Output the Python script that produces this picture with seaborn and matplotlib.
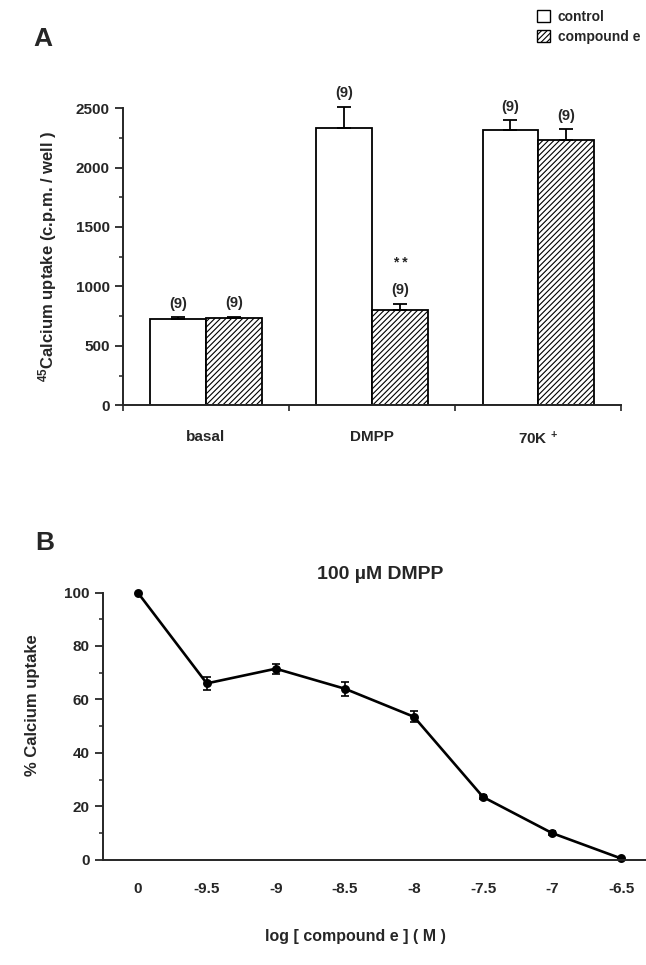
import pandas as pd
import numpy as np
import seaborn as sns
import matplotlib.pyplot as plt
from matplotlib.patches import Patch
from matplotlib.ticker import MultipleLocator, FixedLocator

sns.set_style("ticks")
plt.rcParams["font.family"] = ["Liberation Sans", "DejaVu Sans"]
plt.rcParams["font.weight"] = "bold"
plt.rcParams["mathtext.fontset"] = "custom"
plt.rcParams["mathtext.rm"] = "Liberation Sans:bold"
plt.rcParams["mathtext.bf"] = "Liberation Sans:bold"
plt.rcParams["mathtext.it"] = "Liberation Sans:bold"
plt.rcParams["hatch.linewidth"] = 0.8

# panel A data
conditions = ["basal", "DMPP", "70K $^{+}$"]
groups = ["control", "compound e"]
control_mean = [728, 2330, 2318]
control_err = [12, 180, 80]
compound_mean = [735, 805, 2230]
compound_err = [10, 50, 90]
n_labels = ["(9)", "(9)", "(9)", "(9)", "(9)", "(9)"]

# panel B data
log_conc = ["0", "-9.5", "-9", "-8.5", "-8", "-7.5", "-7", "-6.5"]
pct_uptake = [100, 66, 71.5, 64, 53.5, 23.5, 10, 0.5]
pct_err = [0, 2.3, 1.8, 2.7, 2.1, 0.6, 0.6, 0.3]

df_a = pd.DataFrame({
    "cond": conditions * 2,
    "group": [groups[0]] * 3 + [groups[1]] * 3,
    "value": control_mean + compound_mean,
    "err": control_err + compound_err,
})
df_b = pd.DataFrame({"x": log_conc, "y": pct_uptake, "err": pct_err})

fig = plt.figure(figsize=(6.46, 9.65), dpi=100)

# ---------- panel A ----------
axA = fig.add_axes([0.190, 0.580, 0.772, 0.308])
sns.barplot(data=df_a, x="cond", y="value", hue="group", order=conditions,
            hue_order=groups, palette=["white", "white"], errorbar=None,
            width=0.67, edgecolor="black", linewidth=1.3, legend=False, ax=axA)

bars = axA.patches[:6]
for i, b in enumerate(bars):
    if i >= 3:
        b.set_hatch("//////")
    xc = b.get_x() + b.get_width() / 2
    row = df_a.iloc[i]
    axA.errorbar(xc, row["value"], yerr=[[0], [row["err"]]], fmt="none",
                 ecolor="black", elinewidth=1.3, capsize=5, capthick=1.3,
                 clip_on=False)
    top = row["value"] + row["err"]
    axA.text(xc, top + 55, n_labels[i], ha="center", va="bottom", fontsize=10.5,
             fontweight="bold", clip_on=False)
    if i == 4:
        axA.text(xc, top + 280, "* *", ha="center", va="bottom", fontsize=10,
                 fontweight="bold")

axA.set_xlim(-0.5, 2.5)
axA.set_ylim(0, 2500)
axA.yaxis.set_major_locator(MultipleLocator(500))
axA.yaxis.set_minor_locator(MultipleLocator(250))
axA.xaxis.set_minor_locator(FixedLocator([-0.5, 0.5, 1.5, 2.5]))
axA.tick_params(axis="x", which="major", length=0, pad=18, labelsize=11)
axA.tick_params(axis="x", which="minor", length=4, width=1.2)
axA.tick_params(axis="y", which="major", length=6, width=1.3, labelsize=11)
axA.tick_params(axis="y", which="minor", length=3, width=1.1)
for lab in axA.get_xticklabels() + axA.get_yticklabels():
    lab.set_fontweight("bold")
axA.set_xlabel("")
axA.set_ylabel("$^{45}$Calcium uptake (c.p.m. / well )", fontsize=12,
               fontweight="bold", labelpad=12)
sns.despine(ax=axA)
for s in ["left", "bottom"]:
    axA.spines[s].set_linewidth(1.4)

handles = [Patch(facecolor="white", edgecolor="black", label="control"),
           Patch(facecolor="white", edgecolor="black", hatch="//////",
                 label="compound e")]
fig.legend(handles=handles, loc="upper left", bbox_to_anchor=(0.812, 1.003),
           frameon=False, handlelength=0.9, handleheight=0.9,
           handletextpad=0.6, labelspacing=0.45,
           prop={"weight": "bold", "size": 10})
fig.text(0.052, 0.952, "A", fontsize=19, fontweight="bold")

# ---------- panel B ----------
axB = fig.add_axes([0.159, 0.109, 0.841, 0.277])
sns.pointplot(data=df_b, x="x", y="y", order=log_conc, errorbar=None,
              color="black", markers="o", markersize=5, linewidth=1.9, ax=axB)
xs = np.arange(len(log_conc))
axB.errorbar(xs[1:], pct_uptake[1:], yerr=pct_err[1:], fmt="none",
             ecolor="black", elinewidth=1.2, capsize=3, capthick=1.2)
axB.set_xlim(-0.507, 7.36)
axB.set_ylim(0, 100)
axB.yaxis.set_major_locator(MultipleLocator(20))
axB.yaxis.set_minor_locator(MultipleLocator(10))
axB.tick_params(axis="x", which="major", length=0, pad=16, labelsize=11)
axB.tick_params(axis="y", which="major", length=6, width=1.3, labelsize=11)
axB.tick_params(axis="y", which="minor", length=3, width=1.1)
for lab in axB.get_xticklabels() + axB.get_yticklabels():
    lab.set_fontweight("bold")
axB.set_xlabel("log [ compound e ] ( M )", fontsize=11.5, fontweight="bold",
               labelpad=22)
axB.xaxis.set_label_coords(0.465, -0.26)
axB.set_ylabel("% Calcium uptake", fontsize=12, fontweight="bold", labelpad=22)
axB.yaxis.set_label_coords(-0.115, 0.58)
axB.set_title("100 µM DMPP", fontsize=14, fontweight="bold", pad=10,
              x=0.51)
sns.despine(ax=axB)
for s in ["left", "bottom"]:
    axB.spines[s].set_linewidth(1.4)
for c in axB.collections + axB.lines:
    c.set_clip_on(False)
fig.text(0.055, 0.430, "B", fontsize=19, fontweight="bold")

fig.savefig("out.png", dpi=100)
